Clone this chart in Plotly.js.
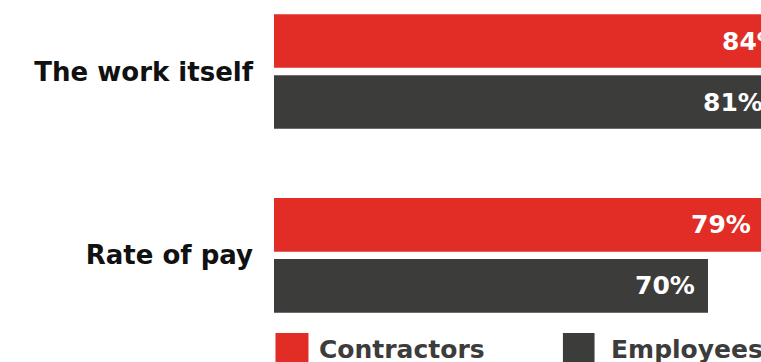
<!DOCTYPE html>
<html>
<head>
<meta charset="utf-8">
<script src="https://cdn.plot.ly/plotly-3.0.1.min.js"></script>
<style>
html,body{margin:0;padding:0;overflow:hidden;background:#fff;}
#chart{width:894px;height:400px;}
</style>
</head>
<body>
<div id="chart"></div>
<script>
const categories = ["The work itself", "Rate of pay"];
const seriesNames = ["Contractors", "Employees"];
const contractors = [84, 79];
const employees = [81, 70];
const seriesValues = [contractors, employees];
const seriesColors = ["#E12D26", "#3C3C3B"];

const FONT = "'DejaVu Sans', sans-serif";

const traces = seriesValues.map((vals, i) => ({
  type: "bar",
  orientation: "h",
  name: seriesNames[i],
  y: categories,
  x: vals,
  marker: {color: seriesColors[i], line: {width: 0}},
  showlegend: false,
  hoverinfo: "skip"
}));

// value labels inside bar ends
const annotations = [];
const slotShift = 30.5;
seriesValues.forEach((vals, i) => {
  vals.forEach((v, j) => {
    annotations.push({
      x: v, y: categories[j], xref: "x", yref: "y",
      text: v + "%", showarrow: false,
      xanchor: "right", yanchor: "middle",
      xshift: -11, yshift: i === 0 ? slotShift : -slotShift,
      font: {family: FONT, size: 25, color: "#ffffff", weight: 700}
    });
  });
});

// manual legend
const legendX = [[0.0024, 0.0556], [0.466, 0.517]];
const legendTextX = [0.069, 0.540];
const shapes = [];
seriesNames.forEach((n, i) => {
  shapes.push({
    type: "rect", xref: "paper", yref: "paper",
    x0: legendX[i][0], x1: legendX[i][1], y0: -0.009, y1: -0.109,
    fillcolor: seriesColors[i], line: {width: 0}
  });
  annotations.push({
    x: legendTextX[i], y: -0.058, xref: "paper", yref: "paper",
    text: n, showarrow: false, xanchor: "left", yanchor: "middle",
    font: {family: FONT, size: 25, color: "#3C3C3B", weight: 700}
  });
});

const layout = {
  width: 894, height: 400,
  margin: {l: 274, r: 0, t: 0, b: 70, pad: 0},
  paper_bgcolor: "#ffffff", plot_bgcolor: "#ffffff",
  barmode: "group",
  bargap: 0.336,
  bargroupgap: 0.122,
  xaxis: {range: [0, 100], visible: false, fixedrange: true},
  yaxis: {
    type: "category",
    range: [1.406, -0.389],
    showgrid: false, zeroline: false, showline: false,
    ticks: "", ticklabelstandoff: 20,
    tickfont: {family: FONT, size: 26, color: "#111111", weight: 700},
    fixedrange: true
  },
  showlegend: false,
  annotations: annotations,
  shapes: shapes
};

Plotly.newPlot("chart", traces, layout, {staticPlot: true, displayModeBar: false});
</script>
</body>
</html>
